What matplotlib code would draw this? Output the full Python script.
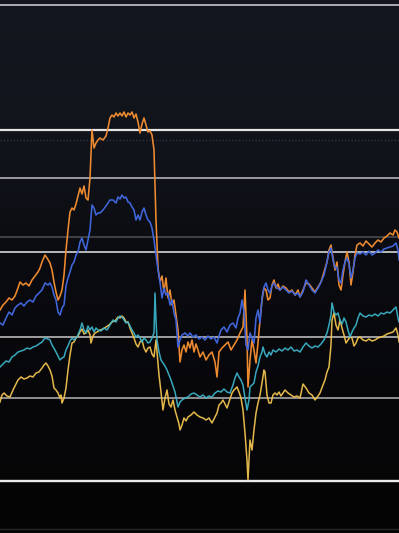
#!/usr/bin/env python3
from __future__ import annotations

import numpy as np
import matplotlib

matplotlib.use("Agg")
import matplotlib.pyplot as plt
from matplotlib.colors import LinearSegmentedColormap

# readings: x position, level (chart scale runs top = 0 .. bottom = 533)
orange_x = [0, 3, 6, 9, 12, 15, 18, 20, 23, 26, 29, 32, 35, 38, 40, 42, 45, 47, 50, 52, 54, 56, 58, 60, 62, 64, 66, 68, 70, 72, 74, 76, 78, 80, 82, 84, 86, 88, 90, 92, 94, 96, 98, 100, 103, 106, 108, 110, 112, 114, 116, 118, 120, 122, 124, 126, 128, 130, 132, 134, 136, 138, 140, 142, 144, 146, 148, 150, 152, 154, 156, 158, 160, 162, 164, 166, 168, 170, 172, 174, 176, 178, 180, 182, 184, 186, 188, 190, 192, 194, 196, 198, 200, 203, 206, 209, 212, 215, 217, 219, 222, 225, 228, 231, 234, 237, 240, 243, 245, 247, 248, 250, 252, 254, 256, 258, 260, 262, 264, 266, 268, 270, 272, 274, 276, 278, 280, 283, 286, 289, 292, 295, 298, 300, 303, 306, 309, 312, 315, 318, 321, 324, 327, 329, 331, 333, 335, 337, 339, 341, 343, 345, 347, 349, 351, 353, 355, 357, 360, 363, 366, 369, 372, 375, 378, 381, 384, 387, 390, 393, 395, 397, 399]
orange_y = [310, 305, 302, 298, 300, 296, 288, 282, 285, 283, 286, 280, 276, 272, 268, 262, 255, 258, 263, 270, 282, 292, 300, 296, 290, 275, 250, 230, 212, 208, 210, 204, 196, 188, 194, 186, 198, 200, 178, 130, 148, 143, 140, 138, 140, 136, 128, 118, 115, 117, 113, 116, 113, 116, 112, 117, 113, 115, 112, 118, 114, 122, 133, 124, 118, 125, 132, 131, 135, 150, 220, 268, 282, 276, 292, 278, 298, 290, 305, 300, 315, 330, 362, 350, 345, 352, 342, 348, 340, 352, 344, 350, 357, 352, 360, 355, 352, 362, 377, 352, 348, 345, 342, 350, 345, 340, 333, 327, 290, 340, 387, 360, 340, 350, 363, 343, 320, 300, 288, 290, 300, 298, 285, 280, 288, 284, 290, 286, 288, 292, 290, 295, 290, 297, 290, 283, 284, 288, 292, 287, 282, 272, 262, 250, 245, 258, 270, 262, 285, 290, 275, 262, 252, 262, 285, 272, 255, 245, 243, 246, 241, 244, 247, 243, 240, 242, 238, 236, 233, 235, 230, 232, 238]

blue_x = [0, 3, 6, 9, 12, 15, 18, 21, 24, 27, 30, 33, 36, 39, 42, 45, 48, 50, 52, 54, 56, 58, 60, 62, 64, 66, 68, 70, 72, 74, 76, 78, 80, 82, 84, 86, 88, 90, 92, 94, 96, 98, 100, 103, 106, 108, 110, 113, 116, 118, 120, 122, 124, 126, 128, 130, 132, 134, 136, 138, 140, 142, 144, 146, 148, 150, 152, 154, 156, 158, 160, 162, 164, 166, 168, 170, 172, 174, 176, 178, 180, 182, 185, 188, 190, 193, 196, 199, 202, 205, 208, 211, 214, 217, 219, 221, 224, 227, 230, 233, 236, 238, 240, 242, 244, 246, 248, 250, 252, 254, 256, 258, 260, 262, 264, 266, 268, 270, 272, 274, 277, 280, 283, 286, 289, 292, 295, 298, 300, 303, 306, 309, 312, 315, 318, 321, 324, 327, 329, 331, 333, 335, 337, 339, 341, 343, 345, 347, 349, 351, 353, 355, 357, 360, 363, 366, 369, 372, 375, 378, 381, 384, 387, 390, 393, 396, 398, 399]
blue_y = [323, 325, 318, 312, 315, 308, 305, 303, 306, 302, 300, 302, 296, 293, 290, 283, 285, 283, 287, 295, 300, 312, 315, 308, 305, 286, 278, 272, 265, 262, 255, 252, 242, 238, 245, 250, 240, 230, 205, 208, 215, 213, 213, 210, 206, 203, 200, 200, 203, 197, 199, 195, 198, 197, 202, 203, 207, 210, 220, 215, 220, 212, 208, 215, 220, 222, 228, 240, 255, 270, 282, 298, 288, 295, 293, 305, 300, 313, 320, 347, 340, 335, 333, 336, 333, 337, 335, 339, 337, 340, 336, 339, 337, 343, 336, 330, 327, 332, 325, 323, 328, 318, 313, 300, 312, 345, 350, 333, 338, 343, 318, 310, 323, 298, 287, 283, 290, 293, 286, 283, 288, 290, 287, 290, 293, 291, 295, 293, 297, 292, 280, 285, 290, 293, 288, 282, 275, 262, 252, 248, 260, 268, 267, 280, 283, 270, 262, 258, 264, 278, 270, 258, 253, 254, 252, 255, 251, 255, 253, 250, 252, 249, 248, 247, 246, 243, 250, 260]

cyan_x = [0, 3, 6, 9, 12, 15, 18, 21, 24, 27, 30, 33, 36, 39, 42, 45, 48, 50, 52, 55, 58, 60, 62, 64, 66, 68, 70, 72, 74, 77, 80, 82, 84, 86, 88, 90, 92, 94, 96, 98, 101, 104, 107, 110, 113, 116, 118, 120, 122, 124, 126, 128, 130, 132, 134, 136, 138, 140, 142, 144, 146, 148, 150, 152, 154, 155, 156, 157, 159, 161, 163, 165, 167, 169, 171, 173, 175, 177, 178, 180, 182, 185, 188, 191, 194, 197, 200, 203, 206, 209, 212, 215, 218, 221, 224, 227, 230, 233, 235, 237, 239, 241, 243, 245, 247, 249, 250, 252, 254, 256, 258, 260, 262, 263, 265, 267, 269, 271, 273, 276, 279, 282, 285, 288, 291, 294, 297, 300, 303, 306, 309, 312, 315, 318, 321, 324, 327, 329, 331, 332, 334, 336, 338, 340, 342, 344, 346, 348, 350, 352, 354, 356, 358, 360, 363, 366, 369, 372, 375, 378, 381, 384, 387, 390, 393, 396, 398, 399]
cyan_y = [367, 364, 361, 362, 357, 355, 352, 351, 350, 348, 349, 347, 346, 344, 342, 338, 339, 340, 345, 350, 356, 360, 358, 357, 350, 346, 341, 338, 340, 337, 330, 323, 330, 333, 326, 330, 327, 332, 328, 330, 331, 328, 330, 325, 320, 322, 318, 316, 317, 320, 323, 322, 326, 330, 333, 337, 335, 338, 342, 338, 340, 343, 342, 338, 333, 293, 320, 340, 352, 360, 363, 366, 370, 375, 380, 386, 392, 402, 407, 402, 400, 398, 397, 394, 393, 395, 397, 395, 398, 396, 397, 393, 391, 392, 389, 392, 393, 385, 378, 373, 377, 380, 385, 398, 410, 400, 387, 385, 383, 372, 366, 357, 352, 347, 354, 357, 352, 355, 350, 352, 349, 351, 348, 350, 347, 351, 350, 352, 347, 343, 346, 348, 346, 347, 344, 340, 333, 325, 315, 303, 312, 315, 313, 320, 324, 318, 322, 330, 337, 332, 328, 325, 318, 313, 316, 317, 315, 316, 314, 316, 313, 314, 312, 313, 310, 307, 318, 322]

yellow_x = [0, 2, 4, 7, 10, 13, 16, 18, 21, 24, 27, 30, 33, 36, 39, 42, 44, 46, 48, 50, 52, 54, 56, 58, 60, 61, 62, 64, 66, 68, 70, 72, 74, 76, 78, 80, 82, 84, 86, 88, 90, 91, 93, 95, 97, 100, 103, 106, 109, 112, 115, 118, 120, 122, 124, 126, 128, 130, 132, 134, 136, 138, 140, 142, 144, 146, 148, 150, 152, 154, 156, 157, 159, 161, 163, 165, 167, 169, 171, 173, 175, 177, 179, 180, 182, 184, 186, 188, 191, 194, 197, 200, 203, 206, 209, 212, 215, 217, 219, 221, 223, 225, 227, 229, 232, 234, 237, 239, 241, 243, 245, 247, 248, 249, 250, 252, 254, 256, 258, 260, 262, 264, 265, 267, 269, 271, 273, 275, 277, 279, 281, 283, 285, 288, 291, 294, 297, 300, 303, 306, 309, 312, 315, 318, 320, 323, 325, 327, 329, 331, 332, 334, 336, 338, 340, 342, 344, 346, 348, 350, 352, 354, 356, 358, 360, 363, 366, 369, 372, 375, 378, 381, 384, 387, 390, 393, 396, 398, 399]
yellow_y = [402, 395, 393, 396, 397, 390, 384, 380, 377, 379, 378, 376, 377, 373, 372, 368, 365, 363, 366, 370, 376, 388, 390, 393, 398, 395, 403, 398, 388, 370, 355, 343, 342, 338, 336, 332, 329, 334, 333, 330, 335, 343, 336, 333, 332, 330, 329, 327, 325, 322, 321, 317, 318, 316, 318, 322, 322, 328, 333, 338, 344, 347, 342, 340, 348, 352, 348, 347, 354, 357, 340, 352, 375, 392, 410, 398, 390, 404, 407, 400, 410, 417, 424, 430, 425, 418, 421, 417, 415, 412, 415, 417, 418, 420, 418, 423, 417, 413, 405, 403, 400, 404, 408, 402, 393, 390, 387, 392, 398, 410, 433, 460, 480, 460, 440, 450, 430, 413, 403, 395, 383, 370, 372, 395, 403, 403, 395, 393, 395, 392, 396, 393, 390, 393, 395, 397, 396, 398, 384, 388, 393, 395, 400, 396, 393, 385, 380, 372, 367, 345, 320, 313, 325, 330, 320, 328, 335, 343, 340, 337, 338, 346, 343, 338, 337, 340, 341, 339, 341, 340, 338, 337, 336, 334, 333, 332, 328, 335, 342]

# horizontal reference lines: level, colour, width, style
ref_levels = [5, 130, 140, 178, 237, 252, 337, 398, 481, 529]
ref_colors = ["#c4c6ca", "#e4e4e4", "#343a48", "#bfc0c2", "#4a4a4c", "#d6d6d6", "#c8c8c8", "#b4b4b4", "#ececec", "#262626"]
ref_widths = [1.2, 1.6, 0.9, 1.1, 1.2, 1.2, 1.1, 1.1, 1.7, 1.0]
ref_styles = ["-", "-", ":", "-", "-", "-", "-", "-", "-", "-"]


def main() -> None:
    fig = plt.figure(figsize=(3.99, 5.33), dpi=100)
    ax = fig.add_axes([0, 0, 1, 1])
    ax.set_xlim(0, 399)
    ax.set_ylim(533, 0)
    ax.axis("off")

    bg = LinearSegmentedColormap.from_list(
        "bg", [(0.0, "#14171f"), (0.3, "#10131a"), (0.5, "#0a0b10"), (0.75, "#07070a"), (1.0, "#040404")]
    )
    grad = np.linspace(0, 1, 256).reshape(-1, 1)
    ax.imshow(grad, cmap=bg, extent=(0, 399, 533, 0), aspect="auto", zorder=0)

    for lev, col, lw, ls in zip(ref_levels, ref_colors, ref_widths, ref_styles):
        ax.axhline(lev, color=col, lw=lw, ls=ls, zorder=1)

    ax.plot(orange_x, orange_y, color="#ee8a30", lw=1.15, zorder=2)
    ax.plot(blue_x, blue_y, color="#4066dc", lw=1.15, zorder=3)
    ax.plot(yellow_x, yellow_y, color="#f0c24e", lw=1.1, zorder=4, alpha=0.95)
    ax.plot(cyan_x, cyan_y, color="#3cb6cc", lw=1.1, zorder=5, alpha=0.92)

    fig.savefig("out.png", dpi=100, facecolor="#040404")
    plt.close(fig)


if __name__ == "__main__":
    main()
